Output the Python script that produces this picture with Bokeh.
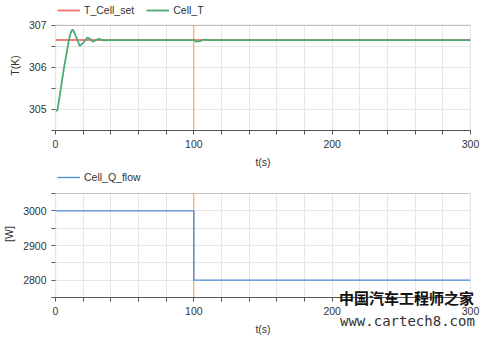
from bokeh.plotting import figure
from bokeh.layouts import column
from bokeh.models import FixedTicker, Legend, LegendItem, Range1d, BoxAnnotation, Div
from bokeh.embed import file_html
from bokeh.resources import INLINE

# ---- data ----
t_set = [0, 300]
T_cell_set = [306.65, 306.65]
t_cell = [0, 1, 1.5, 6.2, 10, 11.5, 12.4, 14, 17.5, 20, 23, 25, 27, 31, 35, 40,
          100, 102, 104, 107, 112, 300]
T_cell = [304.98, 304.97, 305.0, 306.0, 306.7, 306.87, 306.9, 306.8, 306.51, 306.58,
          306.71, 306.68, 306.61, 306.68, 306.64, 306.65,
          306.65, 306.61, 306.62, 306.66, 306.65, 306.65]
t_q = [0, 100, 100, 300]
Q_flow = [3000, 3000, 2800, 2800]
event_t = 100
x_lim = (0, 300)
T_lim = (304.5, 307)
Q_lim = (2750, 3050)
x_major = [0, 100, 200, 300]
x_minor = [20, 40, 60, 80, 120, 140, 160, 180, 220, 240, 260, 280]
T_major = [305, 306, 307]
T_minor = [304.5, 305.5, 306.5]
Q_major = [2800, 2900, 3000]
Q_minor = [2750, 2850, 2950, 3050]
watermark = ["中国汽车工程师之家", "www.cartech8.com"]

FONT = "Liberation Sans"
TXT = "#333333"
FRAME = "#555555"
GRID = "#e6e6e6"
EVENT = "#f5a040"


def make_plot(height, ylim, box_px, head_px, bottom_px, xt, yt):
    # frame includes a blank head strip (for the legend) above the plotted box
    y_end = ylim[1] + (ylim[1] - ylim[0]) * head_px / box_px
    p = figure(width=486, height=height, output_backend="svg", toolbar_location=None,
               x_range=Range1d(*x_lim), y_range=Range1d(ylim[0], y_end),
               min_border_left=53, min_border_right=16, min_border_top=0,
               min_border_bottom=bottom_px)
    p.outline_line_color = None
    p.background_fill_color = "white"
    p.border_fill_color = "white"
    for ax in (p.xaxis[0], p.yaxis[0]):
        ax.axis_line_color = FRAME
        ax.major_tick_line_color = FRAME
        ax.minor_tick_line_color = FRAME
        ax.major_tick_out = 4
        ax.major_tick_in = 0
        ax.minor_tick_out = 4
        ax.minor_tick_in = 0
        ax.major_label_text_font = FONT
        ax.major_label_text_font_size = "10.5px"
        ax.major_label_text_color = TXT
        ax.axis_label_text_font = FONT
        ax.axis_label_text_font_size = "10.5px"
        ax.axis_label_text_font_style = "normal"
        ax.axis_label_text_color = TXT
    p.yaxis[0].axis_line_color = None
    p.yaxis[0].bounds = ylim
    p.xaxis[0].ticker = xt
    p.yaxis[0].ticker = yt
    p.xgrid[0].ticker = xt
    p.ygrid[0].ticker = yt
    for g in (p.xgrid[0], p.ygrid[0]):
        g.grid_line_color = GRID
        g.minor_grid_line_color = GRID
        g.grid_line_width = 1
        g.minor_grid_line_width = 1
    # white cover over the head strip (hides grid lines there)
    p.quad(left=[x_lim[0]], right=[x_lim[1]], bottom=[ylim[1]], top=[y_end],
           fill_color="white", line_color=None)
    # event marker at t = event_t
    p.segment(x0=[event_t], y0=[ylim[0]], x1=[event_t], y1=[ylim[1]],
              line_color=EVENT, line_width=1)
    # plot-box border
    p.add_layout(BoxAnnotation(left=x_lim[0], right=x_lim[1], bottom=ylim[0], top=ylim[1],
                               fill_alpha=0, line_color=FRAME, line_width=1.2,
                               level="overlay"))
    return p


def make_legend(items, y):
    return Legend(items=items, orientation="horizontal", location=(2, y),
                  border_line_color=None, background_fill_alpha=0,
                  label_text_font=FONT, label_text_font_size="10.5px", label_text_color=TXT,
                  glyph_width=23, glyph_height=12, label_standoff=4, spacing=12,
                  padding=0, margin=0, label_height=12)


# ---- top plot: frame 0..131 px, box 25..131 ----
p1 = make_plot(170, T_lim, 106, 25, 39,
               FixedTicker(ticks=x_major, minor_ticks=x_minor),
               FixedTicker(ticks=T_major, minor_ticks=T_minor))
p1.xaxis.axis_label = "t(s)"
p1.yaxis.axis_label = "T(K)"
r_set = p1.line(t_set, T_cell_set, line_color="#f47c7c", line_width=2)
r_T = p1.line(t_cell, T_cell, line_color="#47ad74", line_width=1.8)
p1.add_layout(make_legend([LegendItem(label="T_Cell_set", renderers=[r_set]),
                           LegendItem(label="Cell_T", renderers=[r_T])], 114), "center")

# ---- bottom plot: frame 0..127 px, box 23..127 ----
p2 = make_plot(167, Q_lim, 104, 23, 40,
               FixedTicker(ticks=x_major, minor_ticks=x_minor),
               FixedTicker(ticks=Q_major, minor_ticks=Q_minor))
p2.xaxis.axis_label = "t(s)"
p2.yaxis.axis_label = "[W]"
r_q = p2.line(t_q, Q_flow, line_color="#4f8fdc", line_width=1.4)
p2.add_layout(make_legend([LegendItem(label="Cell_Q_flow", renderers=[r_q])], 114), "center")

# watermark overlay (zero-height element at the page bottom, text shifted up over the chart)
wm_html = (
    '<div style="position:relative;width:486px;height:0;overflow:visible;">'
    '<div style="position:absolute;left:334px;top:-64px;white-space:nowrap;'
    'font-family:\'Noto Sans CJK SC\';font-weight:bold;font-size:15px;line-height:15px;'
    'color:#111;">' + watermark[0] + '</div>'
    '<div style="position:absolute;left:335px;top:-40px;white-space:nowrap;'
    'font-family:\'DejaVu Sans Mono\';font-size:14px;line-height:14px;color:#333;">'
    + watermark[1] + '</div></div>'
)
wm = Div(text=wm_html, width=486, height=0, styles={"overflow": "visible", "z-index": "10"})

layout = column(p1, p2, wm, spacing=0)
open("out.html", "w").write(file_html(layout, INLINE))
